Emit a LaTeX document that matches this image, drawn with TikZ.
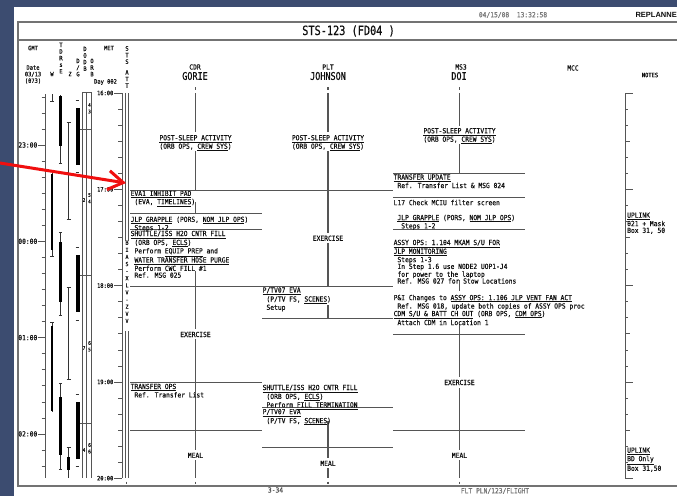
\documentclass[tikz,border=0pt]{standalone}
\usepackage{fontspec}
\setmainfont{DejaVu Sans}
\newfontfamily\fp[FakeStretch=0.9,FakeBold=0.35]{DejaVu Sans Mono}
\newfontfamily\ft[FakeStretch=0.8,FakeBold=0.5]{DejaVu Sans Mono}
\newfontfamily\fbold{Liberation Sans}
\usetikzlibrary{arrows.meta}
\definecolor{bgblue}{RGB}{60,76,112}
\definecolor{ink}{RGB}{15,15,15}
\definecolor{rulec}{RGB}{85,85,85}
\definecolor{stamp}{RGB}{120,120,120}
\definecolor{arrowred}{RGB}{240,15,15}
\newcommand\uln[1]{\underline{#1}}
\newcommand\ind{\phantom{X}}
\newcommand\tx{\fp\fontsize{7}{6.8}\selectfont}
\newcommand\tsm{\fp\fontsize{6}{6.6}\selectfont}
\newcommand\tbig{\ft\fontsize{10.6}{11}\selectfont}
\begin{document}
\begin{tikzpicture}[x=1pt,y=-1pt,
  txt/.style={inner sep=0pt,font=\tx,text=ink,anchor=north west,align=left},
  ctxt/.style={inner sep=0pt,font=\tx,text=ink,anchor=north,align=center},
  hdr/.style={inner sep=0pt,font=\tx,text=ink,align=center},
  vstack/.style={inner sep=0pt,font=\tsm,text=ink,anchor=north,align=center},
  hl/.style={draw=rulec,line width=1pt},
  vl/.style={draw=rulec,line width=1.1pt},
  tickmark/.style={draw=rulec,line width=0.6pt},
  framel/.style={draw=black!55,line width=1.5pt},
  ibar/.style={draw=black!80,line width=0.7pt},
  fatbar/.style={draw=black,line width=2.4pt},
  dgbar/.style={draw=black,line width=4pt}]
\useasboundingbox (0,0) rectangle (677,496);
\fill[bgblue] (0,0) rectangle (677,496);
\fill[white] (14,7) rectangle (677,496);

% page frame
\draw[framel] (677,22) -- (18,22) -- (18,486) -- (677,486);
\draw[framel] (18,40) -- (677,40);
\node[font=\tx,text=stamp] (stamp) at (513,15) {04/15/08\ \ 13:32:58};
\node[font=\fbold\bfseries\fontsize{7.5}{8}\selectfont,anchor=east,inner sep=0pt,text=ink] (repl) at (677,15) {REPLANNE};
\node[font=\ft\fontsize{12.8}{13}\selectfont,text=ink] (title) at (348.5,31) {STS-123 (FD04 )};
\node[font=\tx,text=black!70] (pg) at (275.5,490) {3-34};
\node[font=\tx,text=black!55] (fltpln) at (495,491) {FLT PLN/123/FLIGHT};

% left headers
\node[hdr,font=\tsm] (gmt) at (33,48) {GMT};
\node[hdr,font=\tsm,align=center] (date) at (33,74.5) {Date\\03/13\\(073)};
\node[hdr,font=\tsm] (w) at (52,74) {W};
\node[vstack] (tdrs) at (61,42.5) {T\\D\\R\\s\\E};
\node[hdr,font=\tsm] (z) at (70,74) {Z};
\node[vstack] (dg) at (78,58.5) {D\\/\\G};
\node[vstack] (dodb) at (85,46.5) {D\\O\\D\\B};
\node[vstack] (orb) at (92,58.5) {O\\R\\B};
\node[hdr,font=\tsm] (met) at (109,48) {MET};
\node[hdr,font=\tsm] (day) at (105.5,82) {Day 002};
\node[vstack] (sts) at (127,46) {S\\T\\S};
\node[vstack] (att) at (127,70) {A\\T\\T};

% crew headers
\node[hdr] (cdr) at (195,67) {CDR};
\node[hdr,font=\tbig] (gorie) at (195,76) {GORIE};
\node[hdr] (plt) at (328,67) {PLT};
\node[hdr,font=\tbig] (johnson) at (328,76) {JOHNSON};
\node[hdr] (ms3) at (461,67) {MS3};
\node[hdr,font=\tbig] (doi) at (459,76) {DOI};
\node[hdr] (mcc) at (573,68) {MCC};
\node[hdr,font=\tsm] (notes) at (650,75) {NOTES};

% GMT axis
\draw[vl,line width=0.8pt] (45,94) -- (45,478);
\foreach \k in {-3,...,20} \draw[tickmark] (41.5,{145+16.05*\k}) -- (45,{145+16.05*\k});
\foreach \h/\k in {23:00/0,00:00/6,01:00/12,02:00/18}{
  \draw[tickmark] (38,{145+16.05*\k}) -- (45,{145+16.05*\k});
  \node[font=\tx,text=ink,anchor=east,inner sep=0.5pt] at (38,{145+16.05*\k}) {\h};
}

% W column
\draw[ibar] (52,94) -- (52,101); \draw[ibar] (50.3,101) -- (53.7,101);
\draw[ibar] (52,173) -- (52,256); \draw[ibar] (50.3,256) -- (53.7,256);
\draw[fatbar] (52,174) -- (52,250);
\draw[ibar] (50.3,322) -- (53.7,322); \draw[ibar] (52,322) -- (52,412);
\draw[fatbar] (52,326) -- (52,411);
% TDRS E column
\draw[ibar] (60.5,95) -- (60.5,163); \draw[ibar] (58.8,163) -- (62.2,163);
\draw[fatbar] (60.5,96) -- (60.5,146);
\draw[ibar] (60.5,232) -- (60.5,315); \draw[ibar] (58.8,232) -- (62.2,232); \draw[ibar] (58.8,315) -- (62.2,315);
\draw[fatbar] (60.5,242) -- (60.5,302);
\draw[ibar] (60.5,383) -- (60.5,469); \draw[ibar] (58.8,383) -- (62.2,383); \draw[ibar] (58.8,469) -- (62.2,469);
\draw[fatbar] (60.5,397) -- (60.5,455);
% Z column
\draw[ibar] (68.5,122) -- (68.5,219); \draw[ibar] (66.5,122) -- (70.5,122); \draw[ibar] (66.5,219) -- (70.5,219);
\draw[ibar] (68.5,287) -- (68.5,379); \draw[ibar] (66.5,287) -- (70.5,287); \draw[ibar] (66.5,379) -- (70.5,379);
\draw[ibar] (68.5,447) -- (68.5,478); \draw[ibar] (66.5,447) -- (70.5,447);
\draw[fatbar] (68.5,457) -- (68.5,470);
% D/G column
\draw[dgbar] (77.5,108) -- (77.5,165);
\draw[dgbar] (77.5,255) -- (77.5,312);
\draw[dgbar] (77.5,402) -- (77.5,459);
\foreach \y in {100,172,247,320,394,466} \draw[ibar] (75.5,\y) -- (78.5,\y);
% DODB / ORB box
\draw[ibar,draw=rulec] (82,92) -- (82,478);
\draw[ibar,draw=rulec] (86.8,92) -- (86.8,478);
\draw[ibar,draw=rulec] (91.5,92) -- (91.5,478);
\draw[ibar,draw=rulec] (82,92) -- (91.5,92);
\foreach \y in {129,275,423} \draw[ibar,draw=rulec] (80,\y) -- (92,\y);
\node[vstack,font=\fp\fontsize{5}{6.5}\selectfont] (o1) at (89.5,103) {4\\3};
\node[inner sep=0pt,font=\fp\fontsize{5}{6}\selectfont,text=ink] (o2l) at (84,200) {2};
\node[vstack,font=\fp\fontsize{5}{6.5}\selectfont] (o2) at (89.5,193) {5\\4};
\node[inner sep=0pt,font=\fp\fontsize{5}{6}\selectfont,text=ink] (o3l) at (84,348) {7};
\node[vstack,font=\fp\fontsize{5}{6.5}\selectfont] (o3) at (89.5,341) {6\\5};
\node[inner sep=0pt,font=\fp\fontsize{5}{6}\selectfont,text=ink] (o4l) at (84,450) {4};
\node[vstack,font=\fp\fontsize{5}{6.5}\selectfont] (o4) at (89.5,443) {6\\6};

% MET axis
\draw[vl,line width=0.8pt] (122,93) -- (122,478);
\foreach \k in {0,...,24} \draw[tickmark] (118,{93+16.05*\k}) -- (122,{93+16.05*\k});
\foreach \h/\k in {16:00/0,17:00/6,18:00/12,19:00/18,20:00/24}{
  \draw[tickmark] (114,{93+16.05*\k}) -- (122,{93+16.05*\k});
  \node[font=\tsm,text=ink,anchor=east,inner sep=0.5pt] at (114,{93+16.05*\k}) {\h};
}
% STS ATT column
\draw[ibar,draw=rulec] (125,93) -- (125,241); \draw[ibar,draw=rulec] (128,93) -- (128,241);
\draw[ibar,draw=rulec] (125,331) -- (125,478); \draw[ibar,draw=rulec] (128,331) -- (128,478);
\node[vstack,font=\fp\fontsize{5.6}{7.1}\selectfont] (bias) at (127,240.5) {B\\I\\A\\S\\-\\X\\L\\V\\-\\Z\\V\\V};

% NOTES axis
\draw[vl,line width=0.8pt] (625,93) -- (625,478);
\foreach \k in {0,...,24} \draw[tickmark] (625,{93+16.05*\k}) -- (628,{93+16.05*\k});
\foreach \k in {3,9,15,21} \draw[tickmark] (625,{93+16.05*\k}) -- (630,{93+16.05*\k});
\foreach \k in {0,6,12,18,24} \draw[tickmark] (625,{93+16.05*\k}) -- (633,{93+16.05*\k});
\node[txt] (up1) at (627,212.4) {\uln{UPLINK}\\021 + Mask\\Box 31, 50};
\node[txt] (up2) at (627,447.4) {\uln{UPLINK}\\\uln{BD Only}\\Box 31,50};

% column end dashes
\foreach \x in {195.5,328,459.5} \draw[vl] (\x,87) -- (\x,89.5);
\foreach \x in {126.5,195.5,328,459.5} \draw[vl] (\x,481.5) -- (\x,484);

% ---------- CDR column ----------
\draw[vl] (195.5,93) -- (195.5,132);
\draw[vl] (195.5,149) -- (195.5,190);
\draw[vl] (195.5,202) -- (195.5,213);
\draw[vl] (195.5,271) -- (195.5,329);
\draw[vl] (195.5,339) -- (195.5,450);
\draw[vl] (195.5,460) -- (195.5,478);
\draw[hl] (130,190) -- (393,190);
\draw[hl] (130,213) -- (262,213);
\draw[hl] (130,229) -- (262,229);
\draw[hl] (130,286) -- (393,286);
\draw[hl] (130,382) -- (262,382);
\draw[hl] (130,430) -- (262,430);
\node[ctxt,fill=white,inner sep=0.5pt] (cdr1) at (195.5,134.4) {\uln{POST-SLEEP ACTIVITY}\\(ORB OPS, \uln{CREW SYS})};
\node[txt] (cdr2) at (130.5,190.6) {\uln{EVA1 INHIBIT PAD}\\\ind(EVA, \uln{TIMELINES})};
\node[txt] (cdr3) at (130.5,216.4) {\uln{JLP GRAPPLE} (PORS, \uln{NOM JLP OPS})\\\ind Steps 1-2};
\node[txt] (cdr4) at (130.5,230.6) {\uln{SHUTTLE/ISS H2O CNTR FILL}\\\ind(ORB OPS, \uln{ECLS})\\\ind Perform \uln{EQUIP PREP} and\\\ind\uln{WATER TRANSFER HOSE PURGE}\\\ind Perform CWC FILL \#1\\\ind Ref. MSG 025};
\node[ctxt] (cdr5) at (195.5,331.6) {EXERCISE};
\node[txt] (cdr6) at (130.5,383.6) {\uln{TRANSFER OPS}\\\ind Ref. Transfer List};
\node[ctxt] (cdr7) at (195.5,452.6) {MEAL};

% ---------- PLT column ----------
\draw[vl] (328,93) -- (328,132);
\draw[vl] (328,149) -- (328,233);
\draw[vl] (328,243) -- (328,286);
\draw[vl] (328,305) -- (328,318);
\draw[vl] (328,421) -- (328,458);
\draw[vl] (328,468) -- (328,478);
\draw[hl] (262,318) -- (393,318);
\draw[hl] (262,407) -- (393,407);
\draw[hl] (262,447) -- (393,447);
\node[ctxt,fill=white,inner sep=0.5pt] (plt1) at (328,134.4) {\uln{POST-SLEEP ACTIVITY}\\(ORB OPS, \uln{CREW SYS})};
\node[ctxt] (plt2) at (328,235.4) {EXERCISE};
\node[txt] (plt3) at (262.5,287.2) {\uln{P/TV07 EVA}\\\ind(P/TV FS, \uln{SCENES})\\\ind Setup};
\node[txt] (plt4) at (262.5,384.6) {\uln{SHUTTLE/ISS H2O CNTR FILL}\\\ind(ORB OPS, \uln{ECLS})\\\ind Perform \uln{FILL TERMINATION}};
\node[txt] (plt5) at (262.5,408.8) {\uln{P/TV07 EVA}\\\ind(P/TV FS, \uln{SCENES})};
\node[ctxt] (plt6) at (328,460.6) {MEAL};

% ---------- MS3 column ----------
\draw[vl] (459.5,93) -- (459.5,126);
\draw[vl] (459.5,141) -- (459.5,173);
\draw[vl] (459.5,280) -- (459.5,291);
\draw[vl] (459.5,324) -- (459.5,377);
\draw[vl] (459.5,388) -- (459.5,450);
\draw[vl] (459.5,460) -- (459.5,478);
\draw[hl] (393,173) -- (525,173);
\draw[hl] (393,197) -- (525,197);
\draw[hl] (393,229) -- (525,229);
\draw[hl] (393,334) -- (525,334);
\draw[hl] (393,430) -- (525,430);
\node[ctxt,fill=white,inner sep=0.5pt] (ms1) at (459.5,127.4) {\uln{POST-SLEEP ACTIVITY}\\(ORB OPS, \uln{CREW SYS})};
\node[txt] (ms2) at (393.5,174.2) {\uln{TRANSFER UPDATE}\\\ind Ref. Transfer List \& MSG 024};
\node[txt] (ms3t) at (393.5,199.6) {L17 Check MCIU filter screen};
\node[txt] (ms4) at (393.5,214.6) {\ind\uln{JLP GRAPPLE} (PORS, \uln{NOM JLP OPS})\\\ind\ind Steps 1-2};
\node[txt] (ms5) at (393.5,239.6) {\uln{ASSY OPS: 1.104 MKAM S/U FOR}\\\uln{JLP MONITORING}\\\ind Steps 1-3\\\ind In Step 1.6 use NODE2 UOP1-J4\\\ind for power to the laptop\\\ind Ref. MSG 027 for Stow Locations};
\node[txt] (ms6) at (393.5,294.6) {P\&I Changes to \uln{ASSY OPS: 1.106 JLP VENT FAN ACT}\\\ind Ref. MSG 018, update both copies of ASSY OPS proc};
\node[txt] (ms7) at (393.5,310.6) {\uln{CDM S/U \& BATT CH OUT} (ORB OPS, \uln{CDM OPS})\\\ind Attach CDM in Location 1};
\node[ctxt] (ms8) at (459.5,379.6) {EXERCISE};
\node[ctxt] (ms9) at (459.5,452.6) {MEAL};

% red arrow
\coordinate (astart) at (-2,162.7);
\coordinate (atip) at (126,183);
\draw[arrowred,line width=3pt,-{Straight Barb[length=15pt,width=19pt,line width=3pt]}] (astart) -- (atip);
\end{tikzpicture}
\end{document}
